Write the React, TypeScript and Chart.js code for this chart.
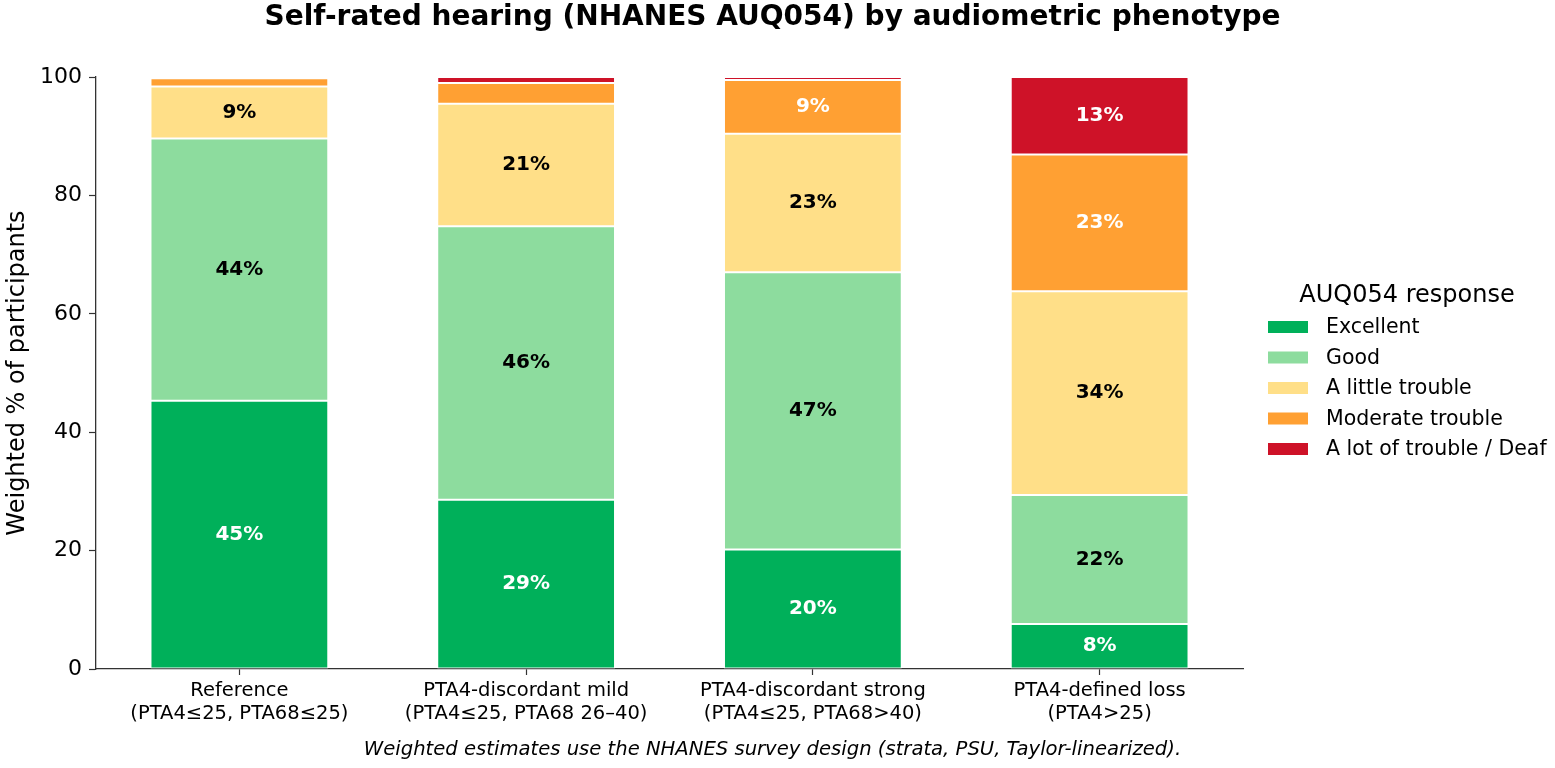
import React, { useEffect, useRef } from "react";
import { Chart, registerables } from "chart.js";

Chart.register(...registerables);

const FONT = "'DejaVu Sans', 'Liberation Sans', sans-serif";

const chartTitle = "Self-rated hearing (NHANES AUQ054) by audiometric phenotype";
const captionText =
  "Weighted estimates use the NHANES survey design (strata, PSU, Taylor-linearized).";
const legendTitle = "AUQ054 response";
const yAxisTitle = "Weighted % of participants";

const categories: string[][] = [
  ["Reference", "(PTA4≤25, PTA68≤25)"],
  ["PTA4-discordant mild", "(PTA4≤25, PTA68 26–40)"],
  ["PTA4-discordant strong", "(PTA4≤25, PTA68>40)"],
  ["PTA4-defined loss", "(PTA4>25)"],
];

const seriesNames = [
  "Excellent",
  "Good",
  "A little trouble",
  "Moderate trouble",
  "A lot of trouble / Deaf",
];

const excellent = [45.3, 28.6, 20.2, 7.6];
const good = [44.3, 46.2, 46.8, 21.8];
const littleTrouble = [8.8, 20.7, 23.4, 34.4];
const moderateTrouble = [1.4, 3.5, 9.1, 23.1];
const lotOfTrouble = [0.2, 1.0, 0.5, 13.1];

const seriesValues = [excellent, good, littleTrouble, moderateTrouble, lotOfTrouble];
const seriesColors = ["#00b05a", "#8ddc9e", "#ffdf88", "#ffa033", "#ce1228"];
const labelColors = ["#ffffff", "#000000", "#000000", "#ffffff", "#ffffff"];

const yTicks = [0, 20, 40, 60, 80, 100];

const decorPlugin = {
  id: "decor",
  afterDatasetsDraw(chart: any) {
    const ctx = chart.ctx as CanvasRenderingContext2D;
    ctx.save();
    ctx.textAlign = "center";
    ctx.textBaseline = "middle";
    ctx.font = `bold 20px ${FONT}`;
    chart.data.datasets.forEach((ds: any, di: number) => {
      const meta = chart.getDatasetMeta(di);
      meta.data.forEach((el: any, i: number) => {
        const v = ds.data[i] as number;
        if (v < 5) return;
        const { x, y, base } = el.getProps(["x", "y", "base"], true);
        ctx.fillStyle = labelColors[di];
        ctx.fillText(`${Math.round(v)}%`, x, (y + base) / 2);
      });
    });
    ctx.restore();
  },
  afterDraw(chart: any) {
    const ctx = chart.ctx as CanvasRenderingContext2D;
    ctx.save();
    ctx.fillStyle = "#000";
    ctx.textAlign = "center";
    ctx.textBaseline = "middle";
    ctx.font = `bold 28px ${FONT}`;
    ctx.fillText(chartTitle, 772.5, 18);
    ctx.font = `italic 19.6px ${FONT}`;
    ctx.fillText(captionText, 772.5, 750);
    ctx.font = `24px ${FONT}`;
    ctx.fillText(legendTitle, 1407, 296);
    ctx.textAlign = "left";
    ctx.font = `20.5px ${FONT}`;
    seriesNames.forEach((name, i) => {
      const cy = 327 + i * 30.5;
      ctx.fillStyle = seriesColors[i];
      ctx.fillRect(1268, cy - 6, 40, 12);
      ctx.fillStyle = "#000";
      ctx.fillText(name, 1326, cy + 1);
    });
    ctx.restore();
  },
};

function App() {
  const canvasRef = useRef<HTMLCanvasElement | null>(null);

  useEffect(() => {
    if (!canvasRef.current) return;
    const chart = new Chart(canvasRef.current, {
      type: "bar",
      data: {
        labels: categories,
        datasets: seriesNames.map((name, i) => ({
          label: name,
          data: seriesValues[i],
          backgroundColor: seriesColors[i],
          borderColor: "#ffffff",
          borderWidth: 1,
          borderSkipped: false,
          categoryPercentage: 1,
          barPercentage: 0.62,
        })),
      },
      options: {
        responsive: false,
        animation: false,
        devicePixelRatio: 1,
        layout: { padding: { left: 0, top: 77, right: 312, bottom: 0 } },
        plugins: {
          legend: { display: false },
          title: { display: false },
          tooltip: { enabled: false },
        },
        scales: {
          x: {
            stacked: true,
            offset: true,
            grid: {
              offset: false,
              display: true,
              drawOnChartArea: false,
              drawTicks: true,
              tickLength: 6,
              tickColor: "#333",
              tickWidth: 1.2,
            },
            border: { display: true, color: "#333", width: 1.3 },
            ticks: {
              color: "#000",
              font: { family: FONT, size: 19.5 },
              padding: 4,
              maxRotation: 0,
              autoSkip: false,
            },
            afterFit: (s: any) => {
              s.height = 99;
            },
          },
          y: {
            stacked: true,
            min: 0,
            max: 100,
            afterBuildTicks: (s: any) => {
              s.ticks = yTicks.map((v) => ({ value: v }));
            },
            grid: {
              display: true,
              drawOnChartArea: false,
              drawTicks: true,
              tickLength: 7,
              tickColor: "#333",
              tickWidth: 1.2,
            },
            border: { display: true, color: "#333", width: 1.3 },
            ticks: {
              color: "#000",
              font: { family: FONT, size: 22 },
              padding: 7,
            },
            title: {
              display: true,
              text: yAxisTitle,
              color: "#000",
              font: { family: FONT, size: 24 },
              padding: { top: 3, bottom: 4 },
            },
            afterFit: (s: any) => {
              s.width = 96;
            },
          },
        },
      },
      plugins: [decorPlugin],
    });
    return () => chart.destroy();
  }, []);

  return (
    <div style={{ position: "fixed", left: 0, top: 0, width: 1555, height: 768, background: "#fff" }}>
      <canvas ref={canvasRef} width={1555} height={768} style={{ width: 1555, height: 768 }} />
    </div>
  );
}

export default App;
